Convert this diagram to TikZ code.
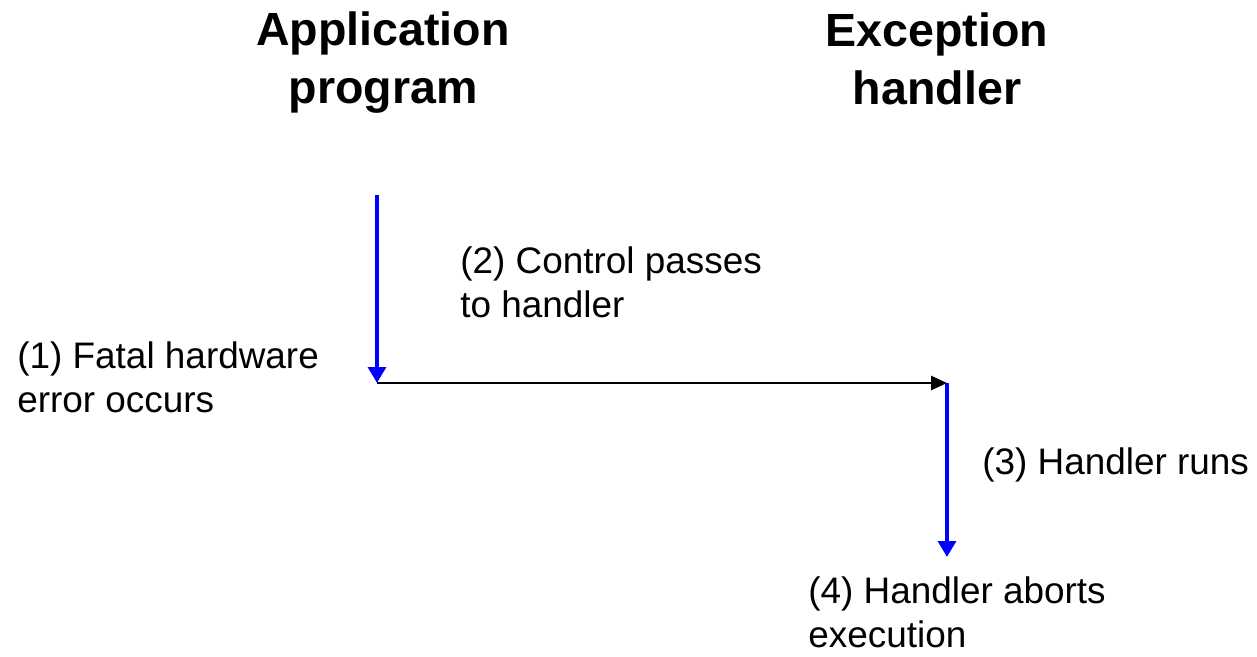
\documentclass[tikz,border=0pt]{standalone}
\usepackage{fontspec}
\setmainfont{Liberation Sans}
\usepackage{tikz}
\usetikzlibrary{arrows.meta}
\tikzset{
title/.style={align=center, font=\fontsize{26.5}{33}\selectfont\bfseries, inner sep=0pt},
note/.style={align=left, anchor=west, font=\fontsize{21}{25}\selectfont, inner sep=0pt},
flow/.style={-{Triangle[length=9pt,width=10pt]}, blue, line width=2.3pt},
pass/.style={-{Triangle[length=9pt,width=8pt]}, black, line width=1.1pt},
}
\begin{document}
\begin{tikzpicture}
    \useasboundingbox (0,0) rectangle (25.14,13.12);
    \node[title] at (7.66,11.87) (app) {Application\\program};
    \node[title] at (18.74,11.94) (exc) {Exception\\handler};
    \coordinate (a1) at (7.54,9.22);
    \coordinate (a2) at (7.54,5.46);
    \coordinate (h1) at (18.94,5.46);
    \coordinate (h2) at (18.94,1.98);
    \node[note] at (0.34,5.58) (n1) {(1) Fatal hardware\\error occurs};
    \node[note] at (9.2,7.48) (n2) {(2) Control passes\\to handler};
    \node[note] at (19.64,3.82) (n3) {(3) Handler runs};
    \node[note] at (16.16,0.88) (n4) {(4) Handler aborts\\execution};
    \draw[pass] (a2) -- (h1);
    \draw[flow] (a1) -- (a2);
    \draw[flow] (h1) -- (h2);
\end{tikzpicture}
\end{document}
